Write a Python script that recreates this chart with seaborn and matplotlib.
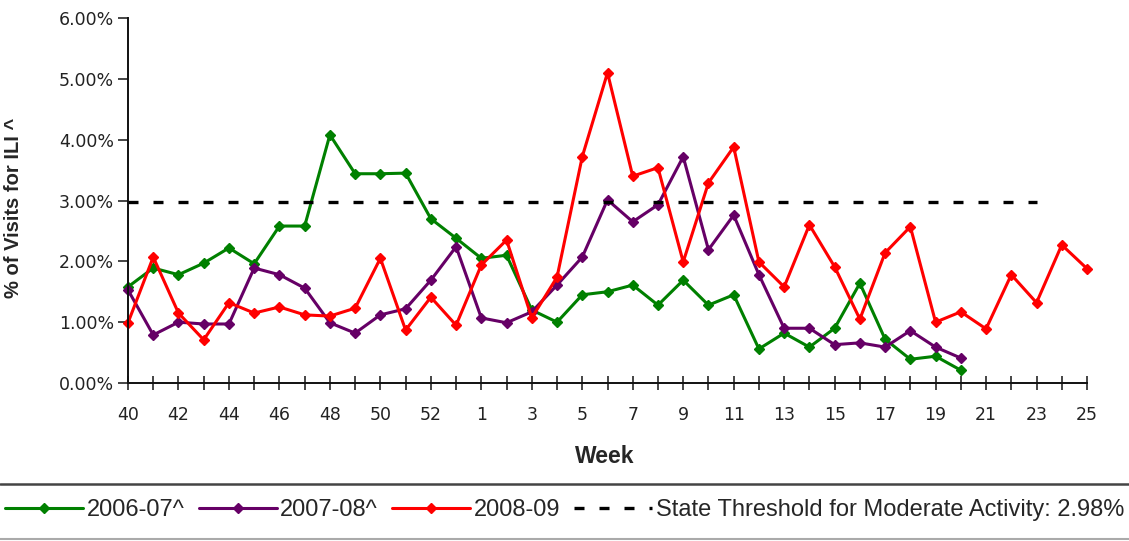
import pandas as pd
import seaborn as sns
from matplotlib import pyplot as plt
from matplotlib.lines import Line2D
from matplotlib.ticker import FixedLocator, FuncFormatter

# MMWR weeks of the season (2008 had a week 53)
weeks = list(range(40, 54)) + list(range(1, 26))

season_0607 = [1.58, 1.89, 1.78, 1.97, 2.22, 1.96, 2.58, 2.58, 4.08, 3.44,
               3.44, 3.45, 2.70, 2.38, 2.05, 2.10, 1.20, 1.00, 1.45, 1.50,
               1.61, 1.28, 1.69, 1.28, 1.45, 0.56, 0.82, 0.59, 0.90, 1.64,
               0.72, 0.39, 0.44, 0.21]
season_0708 = [1.53, 0.79, 1.00, 0.97, 0.97, 1.89, 1.78, 1.56, 0.99, 0.82,
               1.12, 1.22, 1.69, 2.24, 1.07, 0.99, 1.17, 1.61, 2.07, 3.01,
               2.65, 2.93, 3.72, 2.19, 2.76, 1.78, 0.90, 0.90, 0.63, 0.66,
               0.59, 0.86, 0.59, 0.41]
season_0809 = [0.99, 2.07, 1.15, 0.71, 1.32, 1.15, 1.25, 1.12, 1.10, 1.23,
               2.05, 0.87, 1.41, 0.95, 1.94, 2.35, 1.07, 1.74, 3.72, 5.10,
               3.40, 3.54, 1.99, 3.29, 3.88, 1.99, 1.58, 2.60, 1.91, 1.05,
               2.14, 2.57, 1.00, 1.17, 0.89, 1.78, 1.32, 2.27, 1.88]
threshold = 2.98
threshold_len = 37

series_names = ["2006-07^", "2007-08^", "2008-09"]
series_values = [season_0607, season_0708, season_0809]
series_colors = ["#008000", "#660066", "#ff0000"]
threshold_label = "State Threshold for Moderate Activity: 2.98%"

rows = []
for name, vals in zip(series_names, series_values):
    for i, v in enumerate(vals):
        rows.append({"pos": i, "week": weeks[i], "pct": v, "season": name})
df = pd.DataFrame(rows)
df_thr = pd.DataFrame({"pos": range(threshold_len), "pct": [threshold] * threshold_len})

sns.set_style("ticks")
plt.rcParams["font.family"] = ["Liberation Sans", "DejaVu Sans"]

fig = plt.figure(figsize=(11.29, 5.41), dpi=100)
W, H = 1129, 541
ax = fig.add_axes([128 / W, 1 - 383 / H, (1087 - 128) / W, (383 - 18) / H])

for name, color in zip(series_names, series_colors):
    sns.lineplot(
        data=df[df["season"] == name],
        x="pos",
        y="pct",
        ax=ax,
        color=color,
        lw=2.2,
        marker="D",
        markersize=5,
        markeredgecolor=color,
        markeredgewidth=1,
        label=name,
        clip_on=False,
    )
sns.lineplot(
    data=df_thr,
    x="pos",
    y="pct",
    ax=ax,
    color="black",
    lw=2.4,
    dashes=False,
    label=threshold_label,
)
ax.lines[-1].set_dashes((3, 4.5))

ax.set_xlim(0, len(weeks) - 1)
ax.set_ylim(0, 6)
ax.set_yticks(range(0, 7))
ax.yaxis.set_major_formatter(FuncFormatter(lambda v, p: f"{v:.2f}%"))
ax.xaxis.set_major_locator(FixedLocator(range(len(weeks))))
ax.set_xticklabels([str(w) if i % 2 == 0 else "" for i, w in enumerate(weeks)])

ax.tick_params(axis="y", direction="out", length=7, width=1.2, pad=3,
               labelsize=12.5, labelcolor="#222222")
ax.tick_params(axis="x", direction="inout", length=9.5, width=1.2, pad=12,
               labelsize=12.5, labelcolor="#222222")
for lbl in ax.get_xticklabels() + ax.get_yticklabels():
    lbl.set_fontfamily("DejaVu Sans")
for side in ["top", "right"]:
    ax.spines[side].set_visible(False)
for side in ["left", "bottom"]:
    ax.spines[side].set_linewidth(1.4)
    ax.spines[side].set_color("#111111")

ax.set_ylabel("% of Visits for ILI ^", fontsize=14.5, fontweight="bold")
ax.yaxis.set_label_coords(-0.109, 0.48)
ax.set_xlabel("Week", fontsize=16.5, fontweight="bold")
ax.xaxis.set_label_coords(0.497, -0.17)

handles, labels = ax.get_legend_handles_labels()
if ax.get_legend() is not None:
    ax.get_legend().remove()
fig.legend(
    handles,
    labels,
    loc="center",
    bbox_to_anchor=(0.5, 1 - 510 / H),
    ncol=4,
    frameon=False,
    fontsize=17,
    handlelength=3.3,
    handletextpad=0.15,
    columnspacing=0.6,
)

# separator lines around the legend band
fig.add_artist(Line2D([0, 1], [1 - 484 / H] * 2, transform=fig.transFigure,
                      color="#444444", lw=1.8))
fig.add_artist(Line2D([0, 1], [1 - 539 / H] * 2, transform=fig.transFigure,
                      color="#aaaaaa", lw=1.5))

fig.savefig("out.png", dpi=100)
